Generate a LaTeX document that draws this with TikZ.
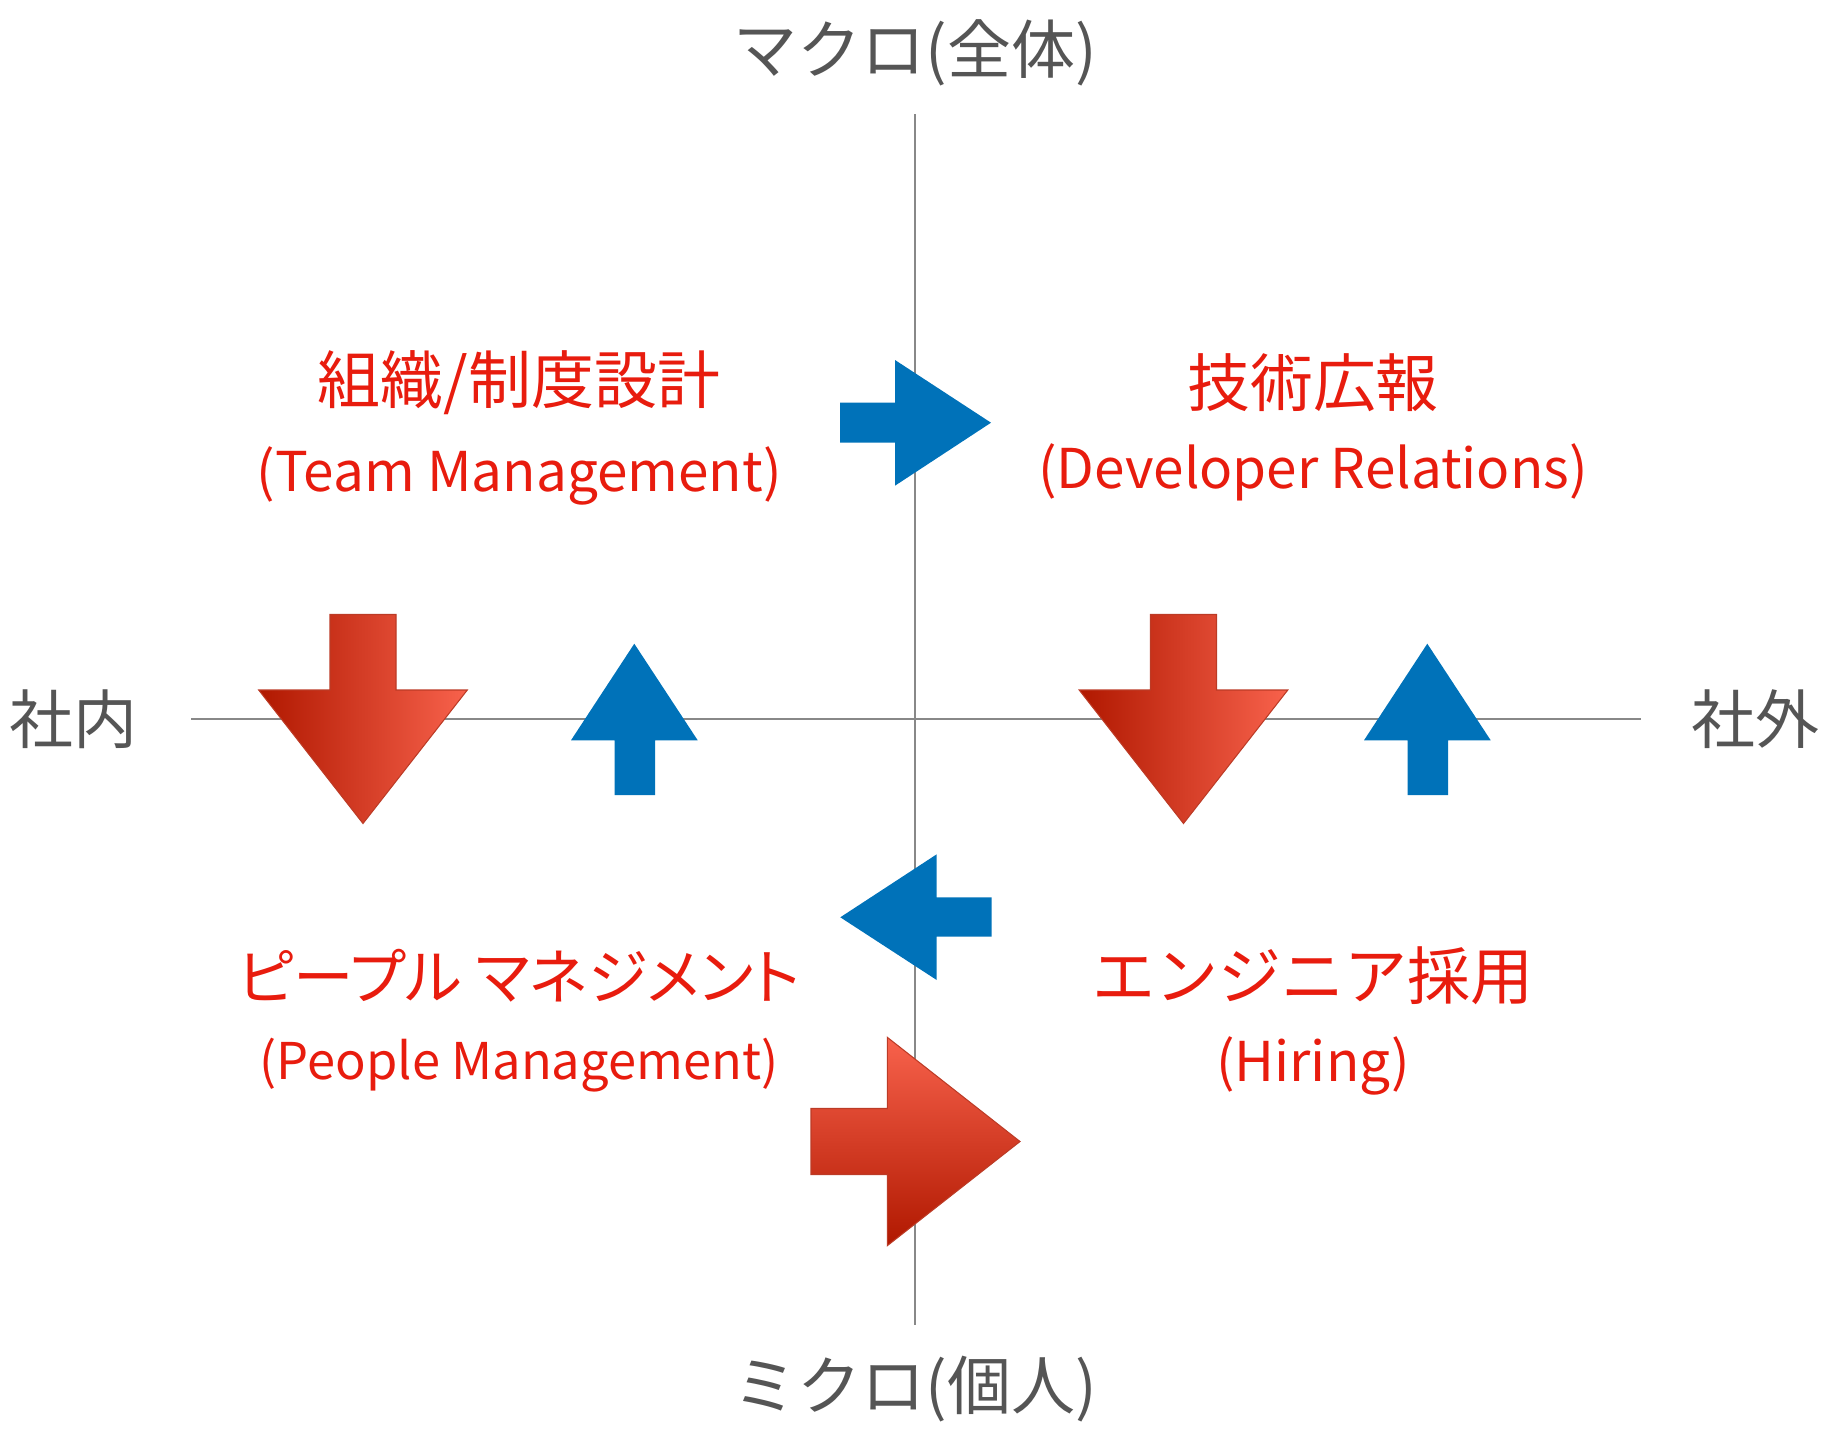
\documentclass[tikz,border=0pt]{standalone}
\usepackage{fontspec}
\setmainfont{Noto Sans CJK JP}
\usepackage{tikz}
\usetikzlibrary{positioning}

\definecolor{axisgray}{RGB}{136,136,136}
\definecolor{labelgray}{RGB}{85,85,85}
\definecolor{titlered}{RGB}{232,28,14}
\definecolor{arrowblue}{RGB}{0,114,185}
\definecolor{darkred}{RGB}{176,24,0}
\definecolor{lightred}{RGB}{248,98,76}

\begin{document}
\begin{tikzpicture}[
    x=0.01cm, y=-0.01cm,
    axis/.style={draw=axisgray, line width=0.6pt},
    axislabel/.style={text=labelgray, inner sep=0pt, font=\fontsize{18.2}{21}\selectfont},
    title/.style={text=titlered, inner sep=0pt, font=\fontsize{17.9}{21}\selectfont},
    kanatitle/.style={title, font=\fontsize{17.2}{20}\selectfont\addfontfeatures{RawFeature=+palt}},
    subtitle/.style={title, font=\fontsize{15.6}{18}\selectfont},
    bluearrow/.style={fill=arrowblue},
    redarrow/.style={draw=darkred!85, line width=0.3pt}
]
\useasboundingbox (0,0) rectangle (1838,1436);

% Axes
\coordinate (yTop) at (915,114);
\coordinate (yBot) at (915,1325);
\coordinate (xLeft) at (191,719);
\coordinate (xRight) at (1641,719);
\draw[axis] (yTop) -- (yBot);
\draw[axis] (xLeft) -- (xRight);

% Axis labels
\node[axislabel] (macro) at (915,53) {マクロ(全体)};
\node[axislabel] (micro) at (915,1389) {ミクロ(個人)};
\node[axislabel] (inside) at (74,719) {社内};
\node[axislabel] (outside) at (1755,719) {社外};

% Quadrant titles
\node[title] (teamJa) at (519,383) {組織/制度設計};
\node[subtitle, below=0.3cm of teamJa] (teamEn) {(Team Management)};
\node[title] (devrelJa) at (1313,383) {技術広報};
\node[subtitle, below=0.3cm of devrelJa] (devrelEn) {(Developer Relations)};
\node[kanatitle] (peopleJa) at (519,976) {ピープル マネジメント};
\node[subtitle, font=\fontsize{14.4}{17}\selectfont, below=0.34cm of peopleJa] (peopleEn) {(People Management)};
\node[title] (hiringJa) at (1313,976) {エンジニア採用};
\node[subtitle, below=0.3cm of hiringJa] (hiringEn) {(Hiring)};

% Red arrows
\shadedraw[redarrow, left color=darkred, right color=lightred]
  (330,614.5) -- (396,614.5) -- (396,690) -- (467.3,690) -- (363,823.5)
  -- (258.7,690) -- (330,690) -- cycle;
\shadedraw[redarrow, left color=darkred, right color=lightred]
  (1150.5,614.5) -- (1216.5,614.5) -- (1216.5,690) -- (1287.8,690) -- (1183.5,823.5)
  -- (1079.2,690) -- (1150.5,690) -- cycle;
\shadedraw[redarrow, top color=lightred, bottom color=darkred]
  (811,1108.5) -- (887.3,1108.5) -- (887.3,1037.3) -- (1020,1141.5)
  -- (887.3,1245.7) -- (887.3,1174.5) -- (811,1174.5) -- cycle;

% Blue arrows
\fill[bluearrow] (614.7,795) -- (614.7,740.3) -- (571,740.3) -- (634.3,643.7)
  -- (697.7,740.3) -- (655,740.3) -- (655,795) -- cycle;
\fill[bluearrow] (1407.7,795) -- (1407.7,740.3) -- (1364,740.3) -- (1427.3,643.7)
  -- (1490.7,740.3) -- (1448,740.3) -- (1448,795) -- cycle;
\fill[bluearrow] (840,402.7) -- (895,402.7) -- (895,360) -- (991,422.7)
  -- (895,485.7) -- (895,442.7) -- (840,442.7) -- cycle;
\fill[bluearrow] (991.7,897.3) -- (936.7,897.3) -- (936.7,854.3) -- (840.3,917.3)
  -- (936.7,980) -- (936.7,936.7) -- (991.7,936.7) -- cycle;

\end{tikzpicture}
\end{document}
